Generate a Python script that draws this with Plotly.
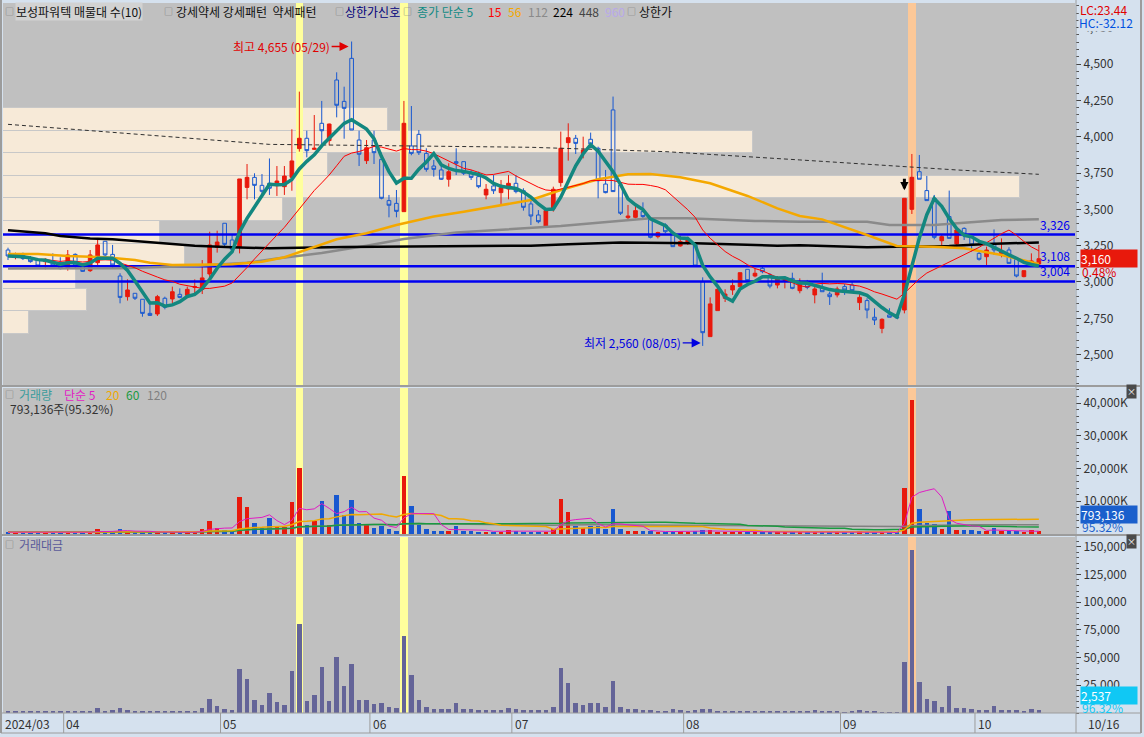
import pandas as pd
import plotly.graph_objects as go

# ---------------- data ----------------
HOLIDAYS = ["2024-04-10", "2024-05-01", "2024-05-06", "2024-05-15", "2024-06-06",
            "2024-08-15", "2024-09-16", "2024-09-17", "2024-09-18",
            "2024-10-01", "2024-10-03", "2024-10-09"]
dates = pd.bdate_range("2024-03-20", "2024-10-16", freq="C", holidays=HOLIDAYS)

open_ = [3220, 3170, 3183, 3163, 3156, 3140, 3133, 3133, 3094, 3190,
         3106, 3078, 3133, 3280, 3190, 3041, 2899, 2922, 2881, 2784,
         2780, 2888, 2883, 2915, 2908, 2963, 2949, 3055, 3239, 3404,
         3289, 3239, 3651, 3720, 3665, 3679, 3663, 3656, 3720, 3918,
         3989, 3913, 4092, 3973, 4390, 4243, 4539, 3977, 3835, 3977,
         3844, 3560, 3541, 3484, 3936, 4016, 3885, 3798, 3771, 3707,
         3828, 3828, 3748, 3725, 3599, 3661, 3615, 3640, 3679, 3628,
         3537, 3461, 3385, 3507, 3684, 3959, 3989, 3885, 3982, 3920,
         3674, 4184, 3668, 3443, 3445, 3484, 3443, 3312, 3392, 3340,
         3248, 3266, 3255, 3002, 2624, 2803, 2888, 2945, 2968, 3087,
         3041, 3094, 3048, 2979, 3009, 3025, 2940, 2986, 2911, 2956,
         2917, 2911, 2968, 2979, 2858, 2872, 2757, 2681, 2773, 2761,
         2807, 3500, 3759, 3629, 3576, 3284, 3450, 3262, 3369, 3312,
         3197, 3174, 3266, 3197, 3220, 3156, 3037, 3110, 3124]
high = [3236, 3202, 3202, 3179, 3163, 3163, 3197, 3170, 3220, 3197,
        3117, 3220, 3294, 3280, 3255, 3060, 3018, 2922, 2881, 2853,
        2911, 2899, 2968, 2956, 2968, 3018, 3151, 3346, 3353, 3404,
        3323, 3709, 3812, 3748, 3743, 3850, 3798, 3798, 4051, 4310,
        4041, 4149, 4246, 4090, 4443, 4344, 4655, 4041, 3977, 4041,
        3890, 3599, 3633, 4246, 4211, 4046, 3920, 3840, 3817, 3817,
        3920, 3828, 3771, 3759, 3674, 3736, 3702, 3736, 3736, 3645,
        3564, 3495, 3491, 3656, 4035, 4092, 4012, 4000, 4028, 3931,
        3771, 4276, 3668, 3530, 3530, 3548, 3443, 3346, 3404, 3346,
        3319, 3312, 3255, 3032, 2894, 2972, 2950, 3018, 3064, 3087,
        3094, 3110, 3060, 3041, 3037, 3064, 3025, 3014, 2968, 3064,
        2933, 2968, 2986, 3002, 2917, 2888, 2819, 2750, 2819, 2766,
        3576, 3881, 3874, 3730, 3599, 3330, 3629, 3358, 3376, 3317,
        3209, 3243, 3362, 3300, 3239, 3163, 3078, 3197, 3255]
low = [3151, 3156, 3151, 3133, 3103, 3087, 3110, 3087, 3078, 3094,
       3069, 3069, 3117, 3179, 3094, 2853, 2872, 2876, 2761, 2766,
       2766, 2812, 2853, 2888, 2899, 2922, 2917, 3025, 3202, 3243,
       3216, 3197, 3569, 3569, 3596, 3599, 3592, 3599, 3628, 3897,
       3858, 3908, 3936, 3940, 4133, 3986, 4046, 3798, 3812, 3812,
       3569, 3445, 3445, 3484, 3872, 3874, 3759, 3725, 3702, 3656,
       3736, 3736, 3702, 3645, 3569, 3606, 3537, 3569, 3610, 3491,
       3392, 3404, 3385, 3484, 3656, 3835, 3881, 3851, 3920, 3576,
       3610, 3622, 3461, 3422, 3438, 3438, 3300, 3300, 3335, 3243,
       3243, 3255, 3105, 2560, 2624, 2803, 2862, 2911, 2968, 3002,
       3032, 3060, 2956, 2956, 2956, 2950, 2922, 2950, 2853, 2933,
       2842, 2894, 2911, 2927, 2807, 2750, 2704, 2647, 2757, 2747,
       2784, 3468, 3707, 3560, 3294, 3248, 3300, 3243, 3289, 3209,
       3147, 3117, 3186, 3170, 3128, 3032, 3032, 3110, 3117]
close = [3179, 3179, 3161, 3140, 3110, 3156, 3117, 3092, 3186, 3117,
         3073, 3186, 3255, 3186, 3117, 2894, 2945, 2888, 2784, 2770,
         2899, 2826, 2933, 2894, 2949, 2968, 3028, 3255, 3275, 3259,
         3225, 3709, 3720, 3665, 3624, 3645, 3695, 3729, 3833, 3989,
         3904, 3920, 4041, 4087, 4216, 4195, 4046, 3879, 3924, 3890,
         3576, 3528, 3486, 4092, 3885, 3890, 3775, 3775, 3707, 3759,
         3817, 3748, 3720, 3656, 3638, 3628, 3649, 3679, 3622, 3514,
         3454, 3415, 3491, 3638, 3920, 3993, 3954, 3908, 3950, 3697,
         3615, 3622, 3473, 3454, 3491, 3450, 3307, 3340, 3346, 3243,
         3278, 3289, 3110, 2651, 2849, 2950, 2917, 2975, 3064, 3009,
         3060, 3071, 2972, 3025, 3018, 2956, 2991, 2963, 2952, 2933,
         2899, 2952, 2945, 2940, 2894, 2807, 2738, 2743, 2757, 2754,
         3576, 3720, 3707, 3560, 3307, 3312, 3300, 3358, 3330, 3255,
         3156, 3220, 3220, 3209, 3128, 3041, 3078, 3145, 3160]
# 거래량 (천주)
volume = [560, 520, 540, 520, 560, 540, 520, 540, 560, 540,
          560, 560, 1400, 540, 900, 1500, 900, 560, 560, 560,
          560, 560, 560, 560, 560, 580, 1500, 3900, 1900, 1100,
          800, 11340, 8220, 3220, 1770, 4780, 2500, 2080, 9780, 20070,
          2600, 3850, 10090, 2600, 11960, 5720, 10400, 3220, 2910, 1980,
          2500, 1460, 1040, 17580, 8530, 2600, 1460, 950, 950, 950,
          2400, 950, 950, 720, 720, 720, 720, 1250, 950, 720,
          720, 700, 700, 1400, 10600, 6860, 2450, 1700, 2450, 2450,
          1500, 7500, 1500, 1050, 1050, 800, 850, 550, 550, 1000,
          800, 550, 850, 1200, 1250, 600, 600, 600, 600, 600,
          580, 580, 600, 600, 600, 600, 600, 600, 900, 600,
          600, 600, 320, 600, 920, 580, 600, 330, 330, 330,
          14200, 41000, 7500, 3400, 3000, 1650, 7000, 1350, 1350, 1100,
          850, 850, 1900, 850, 850, 850, 570, 1150, 793]
# 거래대금 (백만원)
amount = [1800, 1700, 1750, 1700, 1750, 1700, 1650, 1700, 1750, 1700,
          1750, 1750, 4500, 1800, 2700, 4500, 2700, 1650, 1600, 1600,
          1600, 1600, 1650, 1650, 1650, 1700, 4500, 12560, 6280, 3590,
          2700, 39470, 30500, 11960, 7180, 17940, 9870, 7180, 37670, 80730,
          10760, 16150, 41260, 10760, 50230, 24220, 43950, 11660, 11660, 8070,
          8970, 5380, 4490, 69370, 34090, 11660, 5380, 3590, 3590, 3590,
          8970, 3590, 3590, 2700, 2700, 2700, 2700, 4490, 3590, 2700,
          2700, 2690, 2690, 5380, 40370, 26910, 8970, 7180, 8970, 8970,
          5380, 28700, 5380, 3590, 3590, 2690, 2690, 1790, 1790, 3590,
          2690, 1790, 2690, 3590, 3590, 1790, 1790, 1790, 1790, 1790,
          1790, 1790, 1790, 1790, 1790, 1790, 1790, 1790, 2690, 1790,
          1790, 1790, 900, 1790, 2690, 1790, 1790, 900, 900, 900,
          45750, 147100, 27810, 12560, 10760, 5380, 24220, 4490, 4490, 3590,
          2690, 2690, 6280, 2690, 2690, 2690, 1790, 3590, 2537]

# long moving averages (day index, value)
ma56_x = [0, 4, 8, 13, 17, 19, 22, 26, 30, 34, 37, 44, 48, 52, 57, 61, 66, 70, 74, 79,
          83, 86, 90, 94, 99, 103, 106, 109, 115, 119, 124, 128, 133, 138]
ma56_y = [3193, 3193, 3179, 3170, 3151, 3133, 3117, 3117, 3122, 3140, 3170, 3294, 3335, 3392,
          3450, 3484, 3530, 3564, 3633, 3707, 3741, 3743, 3720, 3679, 3592, 3507, 3454, 3431,
          3323, 3248, 3243, 3232, 3186, 3124]
ma112_x = [0, 15, 25, 29, 32, 36, 42, 48, 53, 60, 70, 74, 79, 83, 86, 91, 95, 100, 106,
           115, 118, 124, 128, 133, 138]
ma112_y = [3092, 3094, 3110, 3124, 3133, 3161, 3200, 3250, 3296, 3340, 3369, 3385, 3408,
           3427, 3438, 3438, 3431, 3420, 3415, 3415, 3392, 3392, 3408, 3427, 3431]
ma224_x = [0, 2, 5, 7, 11, 14, 18, 21, 25, 30, 35, 45, 55, 63, 70, 75, 82, 92, 97, 103,
           106, 115, 119, 126, 131, 136, 138]
ma224_y = [3356, 3346, 3335, 3317, 3300, 3294, 3278, 3264, 3250, 3239, 3232, 3240, 3245,
           3250, 3250, 3259, 3271, 3266, 3259, 3250, 3252, 3239, 3243, 3248, 3262, 3271, 3271]
ma448_x = [0, 35, 70, 88, 106, 119, 127, 138]
ma448_y = [4085, 3947, 3927, 3897, 3840, 3798, 3771, 3741]

# 매물대 (10 price bins, bottom to top)
vp_bottom = 2642
vp_step = 155.5
vp_volume = [26, 84, 73, 182, 157, 280, 1017, 325, 750, 385]

level_lines = [3326, 3108, 3004]
signal_days = [39, 53, 121]
signal_kind = ["신호", "신호", "상한가"]
limit_up_days = [120]

price_ticks = [2500, 2750, 3000, 3250, 3500, 3750, 4000, 4250, 4500, 4750]
vol_ticks = [10000, 20000, 30000, 40000]
amt_ticks = [25000, 50000, 75000, 100000, 125000, 150000]

last_volume = 793136
last_change = "0.48%"
vol_ratio = "95.32%"
amt_ratio = "96.32%"
lc_text, hc_text = "LC:23.44", "HC:-32.12"

# ---------------- geometry / style ----------------
W, H = 1144, 737
ML, MR, MT, MB = 3, 69, 3, 24
PW, PH = W - ML - MR, H - MT - MB


def fx(p):
    return (p - ML) / PW


def fy(p):
    return (H - MB - p) / PH


X_MIN, X_MAX = -0.67, 142.84
P_BOT, P_TOP = 2291, 4920
V_TOP = 44600
A_TOP = 158750

RED, BLUE = "#e8190c", "#1858d0"
BG, STRIP, EDGE = "#c0c0c0", "#d5e1ee", "#9c9c9c"
FONT = "Noto Sans CJK KR, sans-serif"

n = len(close)
idx = list(range(n))
up = [c >= o for o, c in zip(open_, close)]
bar_colors = [RED if u else BLUE for u in up]
band_colors = ["#fcc898" if k == "상한가" else "#ffff9c" for k in signal_kind]

ma5 = pd.Series(close).rolling(5, min_periods=1).mean()
ma15 = pd.Series(close).rolling(15, min_periods=1).mean()
vs = pd.Series(volume)
vma = {w: vs.rolling(w, min_periods=1).mean() for w in (5, 20, 60, 120)}

vp_centers = [vp_bottom + vp_step * (k + 0.5) for k in range(len(vp_volume))]
vp_len = [v / max(vp_volume) * 0.949 * (X_MAX - X_MIN) for v in vp_volume]

fig = go.Figure()

# ---- price panel ----
fig.add_trace(go.Bar(orientation="h", y=vp_centers, x=vp_len, base=X_MIN, width=vp_step,
                     marker=dict(color="#f7ead8", line=dict(color="#c8c8c8", width=1)),
                     xaxis="x", yaxis="y", hoverinfo="skip"))
fig.add_trace(go.Bar(x=signal_days, y=[P_TOP - P_BOT] * len(signal_days), base=P_BOT, width=1.0,
                     marker=dict(color=band_colors, line=dict(width=0)),
                     xaxis="x", yaxis="y", hoverinfo="skip"))
fig.add_trace(go.Candlestick(x=idx, open=open_, high=high, low=low, close=close,
                             increasing=dict(line=dict(color=RED, width=1), fillcolor=RED),
                             decreasing=dict(line=dict(color=BLUE, width=1), fillcolor="rgba(0,0,0,0)"),
                             whiskerwidth=0, xaxis="x", yaxis="y", hoverinfo="skip"))
lx, ly = [], []
for lv in level_lines:
    lx += [X_MIN, X_MAX, None]
    ly += [lv, lv, None]
fig.add_trace(go.Scatter(x=lx, y=ly, mode="lines", line=dict(color="#0000f0", width=2.5),
                         xaxis="x", yaxis="y", hoverinfo="skip"))
fig.add_trace(go.Scatter(x=ma448_x, y=ma448_y, mode="lines",
                         line=dict(color="#303030", width=1, dash="4px,3px"), xaxis="x", yaxis="y"))
fig.add_trace(go.Scatter(x=ma112_x, y=ma112_y, mode="lines", line=dict(color="#8a8a8a", width=2.5),
                         xaxis="x", yaxis="y"))
fig.add_trace(go.Scatter(x=ma224_x, y=ma224_y, mode="lines", line=dict(color="#000000", width=2.5),
                         xaxis="x", yaxis="y"))
fig.add_trace(go.Scatter(x=ma56_x, y=ma56_y, mode="lines", line=dict(color="#f4a800", width=2.5),
                         xaxis="x", yaxis="y"))
fig.add_trace(go.Scatter(x=idx, y=ma15, mode="lines", line=dict(color="#ff0000", width=1),
                         xaxis="x", yaxis="y"))
fig.add_trace(go.Scatter(x=idx, y=ma5, mode="lines", line=dict(color="#13877f", width=3.5),
                         xaxis="x", yaxis="y"))

# ---- volume panel ----
fig.add_trace(go.Bar(x=signal_days, y=[V_TOP] * len(signal_days), width=1.0,
                     marker=dict(color=band_colors, line=dict(width=0)),
                     xaxis="x2", yaxis="y2", hoverinfo="skip"))
fig.add_trace(go.Bar(x=idx, y=volume, width=0.6, marker=dict(color=bar_colors, line=dict(width=0)),
                     xaxis="x2", yaxis="y2"))
for w, col, lw in [(120, "#808080", 1.5), (60, "#1a9a40", 1.5), (20, "#f0a800", 1.5), (5, "#e01cc4", 1)]:
    fig.add_trace(go.Scatter(x=idx, y=vma[w], mode="lines", line=dict(color=col, width=lw),
                             xaxis="x2", yaxis="y2"))

# ---- amount panel ----
fig.add_trace(go.Bar(x=signal_days, y=[A_TOP] * len(signal_days), width=1.0,
                     marker=dict(color=band_colors, line=dict(width=0)),
                     xaxis="x3", yaxis="y3", hoverinfo="skip"))
fig.add_trace(go.Bar(x=idx, y=amount, width=0.6, marker=dict(color="#646498", line=dict(width=0)),
                     xaxis="x3", yaxis="y3"))

# ---------------- annotations ----------------
ann = []


def txt(text, x, y, color, size=12, xanchor="left", **kw):
    ann.append(dict(text=text, x=fx(x), y=fy(y), xref="paper", yref="paper", xanchor=xanchor,
                    yanchor="middle", showarrow=False, font=dict(color=color, size=size, family=FONT), **kw))


# top legend row
box = "#777777"
txt("□", 3, 12, box, 9)
txt("보성파워텍 매물대 수(10)", 15, 12, "#111111", bgcolor="#d2d2d2", borderpad=0)
txt("□", 162, 12, box, 9)
txt("강세약세 강세패턴  약세패턴", 174, 12, "#111111")
txt("□", 333, 12, box, 9)
txt("상한가신호", 343, 12, "#00007a")
txt("□", 401, 12, box, 9)
for t, x, c in [("종가 단순 5", 415, "#108a84"), ("15", 486, "#ff0000"), ("56", 506, "#f4a800"),
                ("112", 526, "#8a8a8a"), ("224", 551, "#000000"), ("448", 577, "#444444"),
                ("960", 603, "#b8a8ea")]:
    txt(t, x, 12, c)
txt("□", 625, 12, box, 9)
txt("상한가", 637, 12, "#111111")

# volume / amount legends
txt("□", 3, 395, box, 9)
for t, x, c in [("거래량", 17, "#3a9c9c"), ("단순 5", 62, "#e01cc4"), ("20", 104, "#f0a800"),
                ("60", 124, "#1a9a40"), ("120", 145, "#808080")]:
    txt(t, x, 395, c)
txt(f"{last_volume:,}주({vol_ratio})", 8, 408, "#333333")
txt("□", 3, 544, box, 9)
txt("거래대금", 17, 544, "#5a5a9a")

# high / low markers
hi = max(high)
hi_i = high.index(hi)
lo = min(low)
lo_i = low.index(lo)
ann.append(dict(x=hi_i, y=hi, xref="x", yref="y", text=f"최고 {hi:,} ({dates[hi_i]:%m/%d})",
                showarrow=True, ax=-20, ay=0, xanchor="right", arrowhead=2, arrowsize=1.3,
                arrowwidth=1.4, arrowcolor="#e00000", standoff=3, yshift=-5,
                font=dict(color="#e00000", size=12, family=FONT)))
ann.append(dict(x=lo_i, y=lo, xref="x", yref="y", text=f"최저 {lo:,} ({dates[lo_i]:%m/%d})",
                showarrow=True, ax=-20, ay=0, xanchor="right", arrowhead=2, arrowsize=1.3,
                arrowwidth=1.4, arrowcolor="#0000e0", standoff=2, yshift=3,
                font=dict(color="#0000e0", size=12, family=FONT)))
for d in limit_up_days:
    ann.append(dict(x=d, y=high[d], xref="x", yref="y", text="", showarrow=True, ax=0, ay=-13,
                    yshift=8, arrowhead=2, arrowsize=0.55, arrowwidth=3, arrowcolor="#000000"))

# level labels
for lv in level_lines:
    ann.append(dict(x=X_MAX - 0.4, y=lv, xref="x", yref="y", text=f"{lv:,}", showarrow=False,
                    xanchor="right", yanchor="bottom", yshift=0,
                    font=dict(color="#0000f0", size=12, family=FONT)))

# right strip (HC first so its backing hides the top tick, LC drawn over it)
txt(hc_text, 1078, 23, "#0050e0", bgcolor=STRIP, borderpad=0)
txt(lc_text, 1078, 10, "#e00000")
ann.append(dict(x=fx(1080), y=close[-1], xref="paper", yref="y", text=f"{close[-1]:,}", showarrow=False,
                xanchor="left", yanchor="middle", align="left", width=56, bgcolor=RED, borderpad=0,
                font=dict(color="white", size=12, family=FONT)))
txt(last_change, 1080, 271, "#e00000")
txt(f"{last_volume:,}", 1080, 514, "white", width=56, align="left", bgcolor="#1a5fcc", borderpad=0)
txt(vol_ratio, 1080, 526, "#1a5fcc")
txt(f"{amount[-1]:,}", 1080, 695, "white", width=56, align="left", bgcolor="#10c8f4", borderpad=0)
txt(amt_ratio, 1080, 707, "#10c8f4")
txt("×", 1131, 392, "white", 9, xanchor="center", bgcolor="#4a4a4a", borderpad=0)
txt("×", 1131, 541, "white", 9, xanchor="center", bgcolor="#4a4a4a", borderpad=0)

# date axis
shapes = []
month_first = [i for i in range(n) if i == 0 or dates[i].month != dates[i - 1].month]
for i in month_first:
    label = f"{dates[i]:%Y/%m}" if i == 0 else f"{dates[i]:%m}"
    ann.append(dict(x=i - 0.45 if i else X_MIN, y=fy(723), xref="x", yref="paper", text=label,
                    showarrow=False, xanchor="left", yanchor="middle",
                    font=dict(color="#333333", size=12, family=FONT)))
    if i:
        shapes.append(dict(type="line", xref="x", yref="paper", x0=i - 0.55, x1=i - 0.55,
                           y0=fy(713), y1=fy(733), line=dict(color=EDGE, width=1)))
txt(f"{dates[-1]:%m/%d}", 1086, 723, "#333333")

# frame lines
for yy in (386, 535, 713, 733):
    shapes.append(dict(type="line", xref="paper", yref="paper", x0=fx(1), x1=fx(1141),
                       y0=fy(yy), y1=fy(yy), line=dict(color=EDGE, width=2 if yy < 713 else 1)))
for xx in (1, 1076, 1141):
    shapes.append(dict(type="line", xref="paper", yref="paper", x0=fx(xx), x1=fx(xx),
                       y0=fy(733), y1=fy(0), line=dict(color=EDGE, width=2 if xx != 1076 else 1)))

# ---------------- layout ----------------
xax = dict(range=[X_MIN, X_MAX], showticklabels=False, showgrid=False, zeroline=False,
           showline=False, ticks="", fixedrange=True)
yax = dict(side="right", showgrid=False, zeroline=False, ticks="outside", ticklen=5,
           tickcolor="#444444", tickfont=dict(color="#333333", size=12, family=FONT),
           showline=False, fixedrange=True)

fig.update_layout(
    width=W, height=H,
    margin=dict(l=ML, r=MR, t=MT, b=MB),
    paper_bgcolor=STRIP, plot_bgcolor=BG,
    showlegend=False, barmode="overlay", bargap=0,
    font=dict(family=FONT),
    xaxis=dict(xax, anchor="y", domain=[0, 1], rangeslider=dict(visible=False)),
    xaxis2=dict(xax, anchor="y2", domain=[0, 1], matches="x"),
    xaxis3=dict(xax, anchor="y3", domain=[0, 1], matches="x"),
    yaxis=dict(yax, domain=[fy(385), 1], range=[P_BOT, P_TOP], tickvals=price_ticks,
               ticktext=[f"{v:,}" for v in price_ticks],
               minor=dict(tickmode="linear", tick0=0, dtick=50, ticks="outside", ticklen=3,
                          tickcolor="#555555", showgrid=False)),
    yaxis2=dict(yax, domain=[fy(534), fy(388)], range=[0, V_TOP], tickvals=vol_ticks,
                ticktext=[f"{v:,}K" for v in vol_ticks],
                minor=dict(tickmode="linear", tick0=0, dtick=2000, ticks="outside", ticklen=3,
                           tickcolor="#555555", showgrid=False)),
    yaxis3=dict(yax, domain=[0, fy(537)], range=[0, A_TOP], tickvals=amt_ticks,
                ticktext=[f"{v:,}" for v in amt_ticks],
                minor=dict(tickmode="linear", tick0=0, dtick=5000, ticks="outside", ticklen=3,
                           tickcolor="#555555", showgrid=False)),
    annotations=ann,
    shapes=shapes,
)

fig.write_html("out.html", config={"displayModeBar": False},
               post_script="document.body.style.margin='0px';")
